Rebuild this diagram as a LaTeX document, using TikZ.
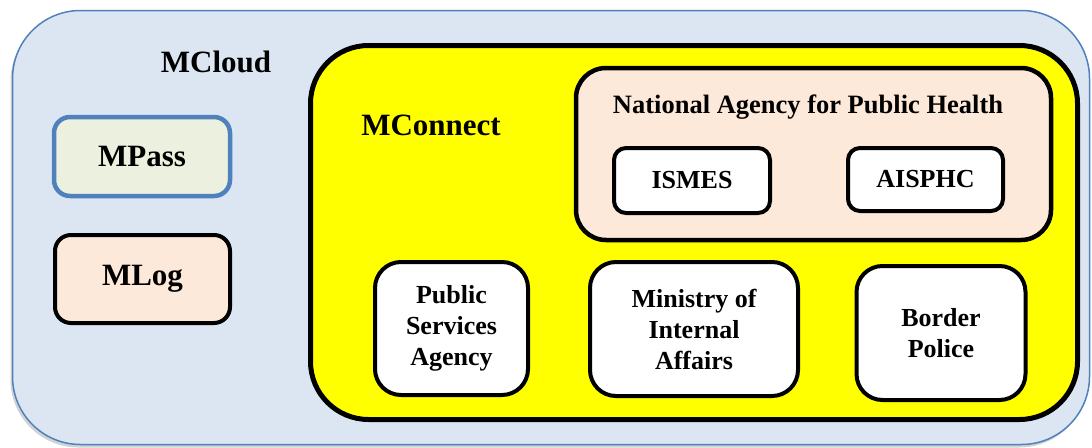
\documentclass[tikz,border=0pt]{standalone}
\usepackage{fontspec}
\setmainfont{Liberation Serif}
\usetikzlibrary{shadows}
\definecolor{cloudfill}{HTML}{DCE6F2}
\definecolor{cloudline}{HTML}{4F81BD}
\definecolor{passfill}{HTML}{EBF1DE}
\definecolor{peach}{HTML}{FDE9D9}
\definecolor{yel}{HTML}{FFFF00}
\tikzset{
  box/.style={draw=black, line width=4pt, rounded corners=16pt, inner sep=0pt, align=center,
    font=\fontsize{26}{31}\selectfont\bfseries},
  bigtext/.style={font=\fontsize{31}{37}\selectfont\bfseries, inner sep=0pt},
  midtext/.style={font=\fontsize{26.5}{31}\selectfont\bfseries, inner sep=0pt},
}
\begin{document}
\begin{tikzpicture}[x=1pt,y=-1pt]
\useasboundingbox (0,0) rectangle (1092,447);
% outer MCloud
\node[draw=cloudline, fill=cloudfill, line width=1.5pt, rounded corners=68pt,
  minimum width=1077pt, minimum height=434pt, inner sep=0pt,
  drop shadow={shadow xshift=-2pt, shadow yshift=-3pt, opacity=0.35}] (cloud) at (551,227.5) {};
\node[bigtext] (cloudlbl) at (216,62) {MCloud};
% MPass, MLog
\node[box, draw=cloudline, line width=4.5pt, fill=passfill, minimum width=176pt, minimum height=79pt,
  font=\fontsize{31}{37}\selectfont\bfseries] (mpass) at (142,156.5) {MPass};
\node[box, fill=peach, minimum width=175pt, minimum height=88pt,
  font=\fontsize{31}{37}\selectfont\bfseries] (mlog) at (142.5,279) {MLog};
% MConnect
\node[draw=black, line width=5pt, fill=yel, rounded corners=58pt,
  minimum width=767pt, minimum height=374pt, inner sep=0pt] (mconnect) at (694,232.5) {};
\node[bigtext] (mconnectlbl) at (431,125) {MConnect};
% National Agency
\node[draw=black, line width=4.5pt, fill=peach, rounded corners=30pt,
  minimum width=475pt, minimum height=172pt, inner sep=0pt] (naph) at (813.5,154) {};
\node[midtext] (naphlbl) at (808,107) {National Agency for Public Health};
\node[box, fill=white, rounded corners=12pt, minimum width=156pt, minimum height=65pt] (ismes) at (692,180.5) {ISMES};
\node[box, fill=white, rounded corners=12pt, minimum width=155pt, minimum height=63pt] (aisphc) at (925.5,179.5) {AISPHC};
% bottom row
\node[box, fill=white, rounded corners=26pt, minimum width=153pt, minimum height=133pt] (psa) at (451.5,328.5) {Public\\Services\\Agency};
\node[box, fill=white, rounded corners=26pt, minimum width=208pt, minimum height=134pt] (mia) at (694,329) {Ministry of\\Internal\\Affairs};
\node[box, fill=white, rounded corners=26pt, minimum width=169pt, minimum height=134pt] (bp) at (941,333) {Border\\Police};
\end{tikzpicture}
\end{document}
